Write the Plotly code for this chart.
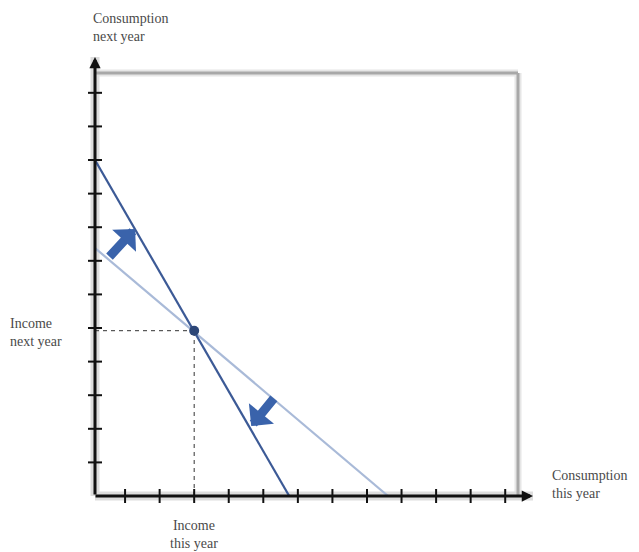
import plotly.graph_objects as go

# ---- data (in tick units) ----
x_ticks = list(range(1, 13))
y_ticks = list(range(1, 13))
axis_x0 = 0.13            # where the vertical axis sits
x_max = 12.37
y_max = 12.59

# budget lines: [point on vertical axis, point on horizontal axis]
steep_x = [0.13, 5.75]
steep_y = [10.0, 0.0]
flat_x = [0.13, 8.61]
flat_y = [7.38, 0.0]

income_point_x = [3.0]
income_point_y = [4.92]

# rotation arrows: (tail_x, tail_y, tip_x, tip_y)
arrow_up = (0.51, 7.08, 1.29, 7.95)
arrow_down = (5.34, 2.95, 4.65, 2.08)

# the page body adds an 8px margin, so the figure is 8px smaller and shifted
OFF = 8
W, H = 639 - OFF, 552 - OFF
L, R, T, B = 95 - OFF, 121, 73 - OFF, 56
PW, PH = W - L - R, H - T - B


def px(xp):
    return (xp - OFF - L) / PW


def py(yp):
    return (H - B - (yp - OFF)) / PH


fig = go.Figure()

# dashed guide lines
fig.add_trace(go.Scatter(x=[axis_x0, income_point_x[0]], y=[income_point_y[0]] * 2,
                         mode="lines", line=dict(color="#333", width=1, dash="4px,4px"),
                         hoverinfo="skip", showlegend=False))
fig.add_trace(go.Scatter(x=[income_point_x[0]] * 2, y=[0, income_point_y[0]],
                         mode="lines", line=dict(color="#333", width=1, dash="4px,4px"),
                         hoverinfo="skip", showlegend=False))

# budget lines
fig.add_trace(go.Scatter(x=flat_x, y=flat_y, mode="lines",
                         line=dict(color="#a9bad8", width=2.2),
                         hoverinfo="skip", showlegend=False))
fig.add_trace(go.Scatter(x=steep_x, y=steep_y, mode="lines",
                         line=dict(color="#3c5a96", width=2.2),
                         hoverinfo="skip", showlegend=False))

# endowment point
fig.add_trace(go.Scatter(x=income_point_x, y=income_point_y, mode="markers",
                         marker=dict(color="#2c4677", size=10),
                         hoverinfo="skip", showlegend=False))

# tick marks crossing the axes
fig.add_trace(go.Scatter(x=x_ticks, y=[0] * len(x_ticks), mode="markers",
                         marker=dict(symbol="line-ns-open", size=10, color="#111",
                                     line=dict(color="#111", width=2)),
                         cliponaxis=False, hoverinfo="skip", showlegend=False))
fig.add_trace(go.Scatter(x=[axis_x0] * len(y_ticks), y=y_ticks, mode="markers",
                         marker=dict(symbol="line-ew-open", size=10, color="#111",
                                     line=dict(color="#111", width=2)),
                         cliponaxis=False, hoverinfo="skip", showlegend=False))

shapes = [
    # soft shadows
    dict(type="line", xref="paper", yref="paper", x0=0, y0=1, x1=1, y1=1,
         line=dict(color="#e6e6e6", width=7), layer="below"),
    dict(type="line", xref="paper", yref="paper", x0=1, y0=0, x1=1, y1=1,
         line=dict(color="#e6e6e6", width=7), layer="below"),
    dict(type="line", xref="paper", yref="paper", x0=0, y0=0, x1=px(533), y1=0,
         line=dict(color="#dddddd", width=9), layer="below"),
    dict(type="line", xref="paper", yref="paper", x0=0, y0=0, x1=0, y1=py(57),
         line=dict(color="#dddddd", width=9), layer="below"),
    # frame top / right
    dict(type="line", xref="paper", yref="paper", x0=0, y0=1, x1=1, y1=1,
         line=dict(color="#a8a8a8", width=3), layer="below"),
    dict(type="line", xref="paper", yref="paper", x0=1, y0=0, x1=1, y1=1,
         line=dict(color="#a8a8a8", width=3), layer="below"),
]

font = dict(family="Liberation Serif", size=14, color="#4a4a4a")
annotations = [
    # axes with arrow heads
    dict(xref="paper", yref="paper", x=0, y=py(57), ax=0, ay=439,
         showarrow=True, arrowhead=2, arrowsize=0.75, arrowwidth=3, arrowcolor="#111", text=""),
    dict(xref="paper", yref="paper", x=px(533), y=0, ax=-439, ay=0,
         showarrow=True, arrowhead=2, arrowsize=0.75, arrowwidth=3, arrowcolor="#111", text=""),
    # rotation arrows
    dict(x=arrow_up[2], y=arrow_up[3], ax=arrow_up[0], ay=arrow_up[1], axref="x", ayref="y",
         showarrow=True, arrowhead=1, arrowsize=0.6, arrowwidth=9, arrowcolor="#3a63ab", text=""),
    dict(x=arrow_down[2], y=arrow_down[3], ax=arrow_down[0], ay=arrow_down[1], axref="x", ayref="y",
         showarrow=True, arrowhead=1, arrowsize=0.6, arrowwidth=9, arrowcolor="#3a63ab", text=""),
    # labels
    dict(xref="paper", yref="paper", x=px(91), y=py(9), xanchor="left", yanchor="top",
         text="Consumption<br>next year", showarrow=False, align="left", font=font),
    dict(xref="paper", yref="paper", x=px(8), y=py(332), xanchor="left", yanchor="middle",
         text="Income<br>next year", showarrow=False, align="left", font=font),
    dict(xref="paper", yref="paper", x=px(194), y=py(516), xanchor="center", yanchor="top",
         text="Income<br>this year", showarrow=False, align="center", font=font),
    dict(xref="paper", yref="paper", x=px(550), y=py(466), xanchor="left", yanchor="top",
         text="Consumption<br>this year", showarrow=False, align="left", font=font),
]

fig.update_layout(
    width=W, height=H,
    margin=dict(l=L, r=R, t=T, b=B),
    paper_bgcolor="white", plot_bgcolor="white",
    xaxis=dict(range=[axis_x0, x_max], showgrid=False, zeroline=False, showline=False,
               showticklabels=False, ticks="", fixedrange=True),
    yaxis=dict(range=[0, y_max], showgrid=False, zeroline=False, showline=False,
               showticklabels=False, ticks="", fixedrange=True),
    shapes=shapes,
    annotations=annotations,
    showlegend=False,
)

fig.write_html("out.html")
